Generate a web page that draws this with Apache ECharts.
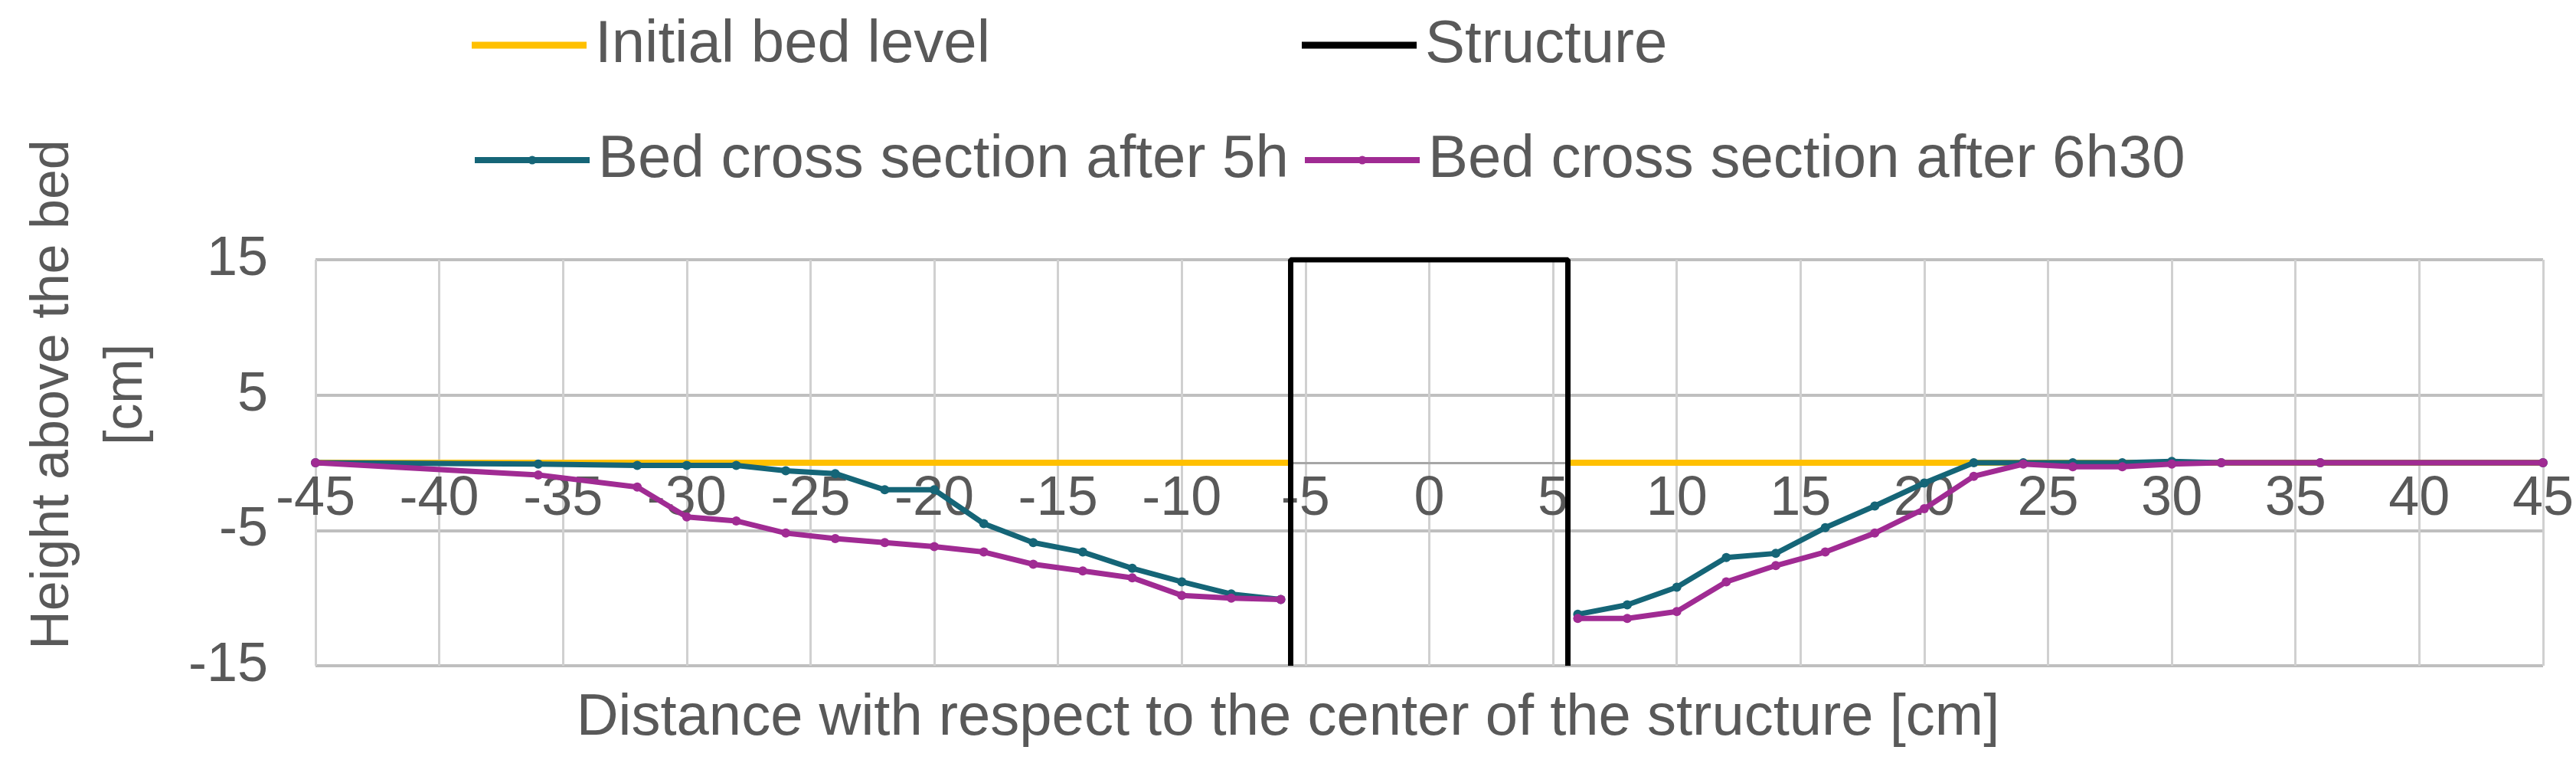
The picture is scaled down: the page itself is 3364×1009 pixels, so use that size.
<!DOCTYPE html>
<html><head><meta charset="utf-8">
<script src="https://cdn.jsdelivr.net/npm/echarts@6/dist/echarts.min.js"></script>
<style>html,body{margin:0;background:#fff}#c{width:3364px;height:1009px}</style>
</head><body><div id="c"></div>
<script>
// bed profiles [distance cm, height cm]
let bed_5h = [[-45,0],[-36,-0.1],[-32,-0.2],[-30,-0.2],[-28,-0.2],[-26,-0.6],[-24,-0.8],[-22,-2],[-20,-2],[-18,-4.5],[-16,-5.9],[-14,-6.6],[-12,-7.8],[-10,-8.8],[-8,-9.7],[-6,-10.1],
  null,[6,-11.2],[8,-10.5],[10,-9.2],[12,-7],[14,-6.7],[16,-4.8],[18,-3.2],[20,-1.5],[22,0],[24,0],[26,0],[28,0],[30,0.1],[32,0],[36,0],[45,0]];
let bed_6h30 = [[-45,0],[-36,-0.9],[-32,-1.8],[-30,-4],[-28,-4.3],[-26,-5.2],[-24,-5.6],[-22,-5.9],[-20,-6.2],[-18,-6.6],[-16,-7.5],[-14,-8],[-12,-8.5],[-10,-9.8],[-8,-10],[-6,-10.1],
  null,[6,-11.5],[8,-11.5],[10,-11],[12,-8.8],[14,-7.6],[16,-6.6],[18,-5.2],[20,-3.4],[22,-1],[24,-0.1],[26,-0.3],[28,-0.3],[30,-0.1],[32,0],[36,0],[45,0]];
let initial_bed = [[-45,0],[-5.6,0],null,[5.6,0],[45,0]];
let structure = [[-5.6,-15],[-5.6,15],[5.6,15],[5.6,-15]];

let font = 'Liberation Sans';
let grey = '#595959';
let chart = echarts.init(document.getElementById('c'));

function legendAt(name, left, top, plain) {
    return {data: [plain ? {name: name, icon: 'rect'} : name], left: left, top: top,
        itemWidth: 150, itemHeight: plain ? 9 : 14, itemGap: 0,
        lineStyle: {width: 8},
        textStyle: {fontFamily: font, fontSize: 78, color: grey, padding: [0, 0, 0, 6]}};
}

chart.setOption({
    animation: false,
    legend: [
        legendAt('Initial bed level', 611, 15, true),
        legendAt('Structure', 1695, 15, true),
        legendAt('Bed cross section after 5h', 611, 165),
        legendAt('Bed cross section after 6h30', 1695, 165)
    ],
    grid: {left: 412, right: 43, top: 339, bottom: 140},
    xAxis: {type: 'value', min: -45, max: 45, interval: 5, offset: -265,
        axisLine: {onZero: false, lineStyle: {color: '#a6a6a6', width: 3}},
        axisTick: {show: false},
        axisLabel: {fontFamily: font, fontSize: 72, color: grey, margin: 12},
        splitLine: {lineStyle: {color: '#d0d0d0', width: 3}}},
    yAxis: {type: 'value', min: -15, max: 15, interval: 10,
        axisLine: {show: false}, axisTick: {show: false},
        axisLabel: {fontFamily: font, fontSize: 72, color: grey, margin: 62},
        splitLine: {lineStyle: {color: '#bfbfbf', width: 4}}},
    graphic: [
        {type: 'text', left: 'center', top: 900,
            style: {text: 'Distance with respect to the center of the structure [cm]', font: '76px ' + font, fill: grey}},
        {type: 'text', x: 22, y: 515, rotation: Math.PI / 2, originX: 0, originY: 0,
            style: {text: 'Height above the bed\n[cm]', font: '70px ' + font, fill: grey, align: 'center', verticalAlign: 'top', lineHeight: 96}}
    ],
    series: [
        {name: 'Initial bed level', type: 'line', data: initial_bed, showSymbol: false, connectNulls: false,
            color: '#FFC000', lineStyle: {width: 8}, z: 2},
        {name: 'Structure', type: 'line', data: structure, showSymbol: false,
            color: '#000000', lineStyle: {width: 7}, z: 5},
        {name: 'Bed cross section after 5h', type: 'line', data: bed_5h, symbol: 'circle', symbolSize: 12,
            color: '#156577', lineStyle: {width: 7}, z: 3},
        {name: 'Bed cross section after 6h30', type: 'line', data: bed_6h30, symbol: 'circle', symbolSize: 12,
            color: '#A02B93', lineStyle: {width: 7}, z: 4}
    ]
});
</script></body></html>
